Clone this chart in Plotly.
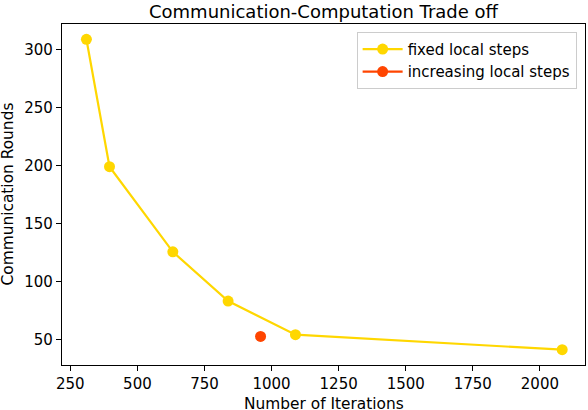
import plotly.graph_objects as go

# values
fixed_iters = [310, 396, 632, 838, 1089, 2083]
fixed_rounds = [309, 199, 125.5, 83, 54, 41]
incr_iters = [959]
incr_rounds = [52.5]

x_ticks = [250, 500, 750, 1000, 1250, 1500, 1750, 2000]
y_ticks = [50, 100, 150, 200, 250, 300]

fig = go.Figure()
fig.add_trace(go.Scatter(x=fixed_iters, y=fixed_rounds, mode='lines+markers',
                         name='fixed local steps',
                         line=dict(color='gold', width=2.2),
                         marker=dict(color='gold', size=11)))
fig.add_trace(go.Scatter(x=incr_iters, y=incr_rounds, mode='lines+markers',
                         name='increasing local steps',
                         line=dict(color='orangered', width=2.2),
                         marker=dict(color='orangered', size=11)))

axis_style = dict(showgrid=False, zeroline=False, showline=True, linecolor='black',
                  linewidth=1.2, mirror=True, ticks='outside', ticklen=5,
                  tickcolor='black', automargin=False,
                  tickfont=dict(size=15, color='black'))

fig.update_layout(
    template='none',
    width=588, height=410,
    font=dict(family='DejaVu Sans', size=15, color='black'),
    title=dict(text='Communication-Computation Trade off', x=0.5, xref='paper',
               xanchor='center', y=0.972, yanchor='middle', font=dict(size=18)),
    margin=dict(l=62, r=3, t=24, b=45),
    plot_bgcolor='white', paper_bgcolor='white',
    showlegend=True,
    xaxis=dict(range=[219, 2168], tickvals=x_ticks, **axis_style),
    yaxis=dict(range=[27.8, 322.2], tickvals=y_ticks, **axis_style),
    legend=dict(x=0.984, y=0.977, xanchor='right', yanchor='top', itemwidth=40,
                bgcolor='rgba(255,255,255,0.8)', bordercolor='#cccccc', borderwidth=1,
                font=dict(size=15), tracegroupgap=0),
)

# axis titles as annotations so they sit where the reference has them
fig.add_annotation(text='Number of Iterations', xref='paper', yref='paper',
                   x=0.5, y=0, xanchor='center', yanchor='middle', yshift=-39,
                   showarrow=False, font=dict(size=15.4))
fig.add_annotation(text='Communication Rounds', xref='paper', yref='paper',
                   x=0, y=0.5, xanchor='center', yanchor='middle', xshift=-55,
                   textangle=-90, showarrow=False, font=dict(size=15.4))

# page body has a default 8px margin, drop it so the figure fills the window
fig.write_html("out.html", config={'displayModeBar': False},
               post_script="document.body.style.margin = '0';")
